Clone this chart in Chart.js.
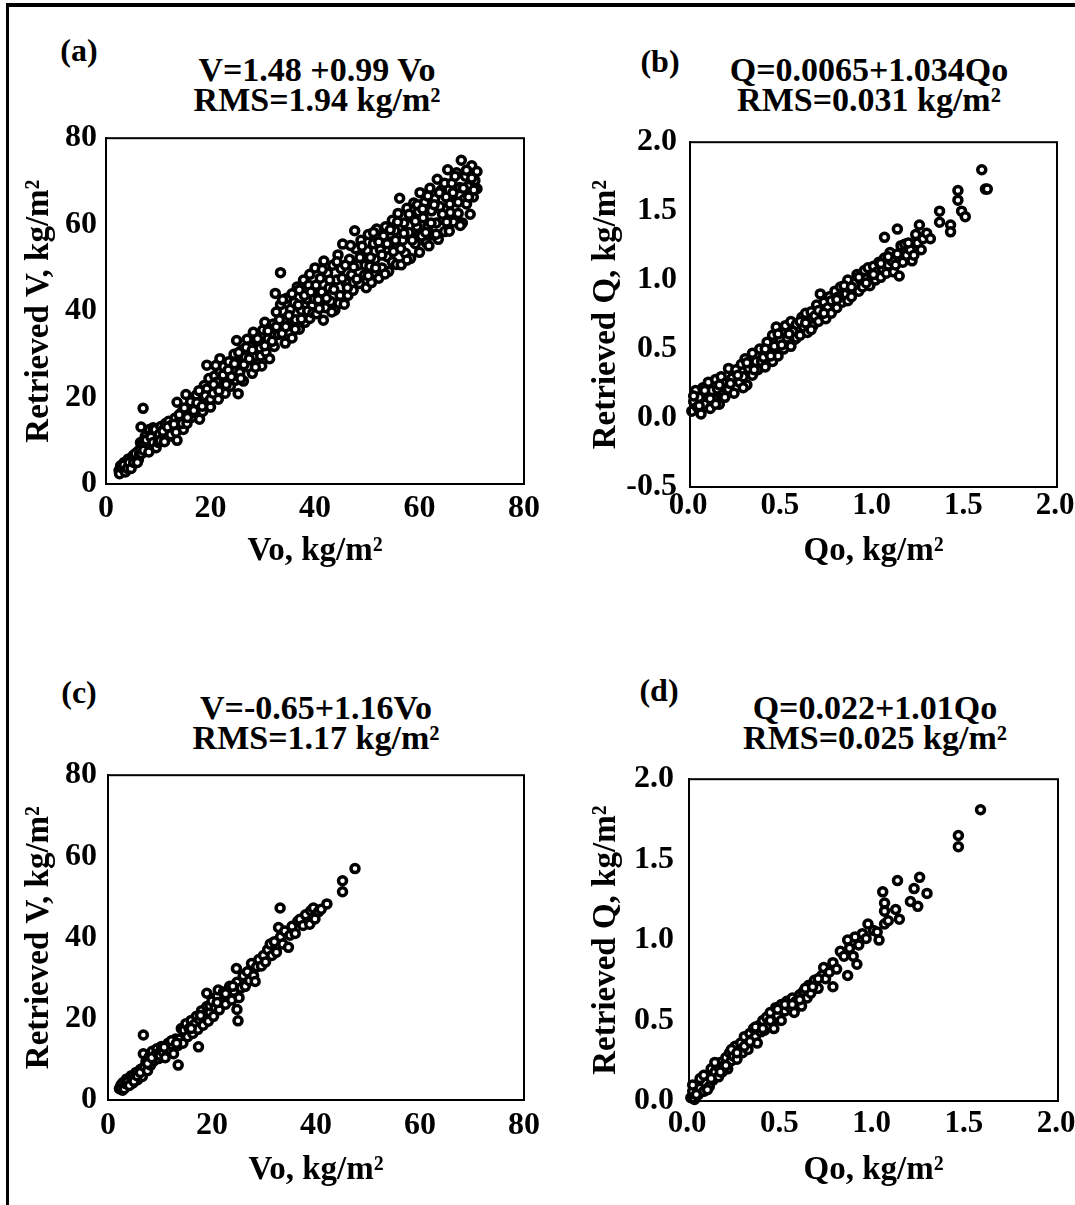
<!DOCTYPE html>
<html>
<head>
<meta charset="utf-8">
<script src="https://cdn.jsdelivr.net/npm/chart.js@4.4.0/dist/chart.umd.min.js"></script>
<style>
  body { margin: 0; background: #fff; width: 1075px; height: 1205px; position: relative; overflow: hidden;
         font-family: "Liberation Serif", "Times New Roman", serif; font-weight: bold; color: #000; }
  .frame { position: absolute; left: 6px; top: 3px; width: 1069px; height: 1202px;
           border-top: 4px solid #000; border-left: 3px solid #000; }
  .txt { position: absolute; transform: translate(-50%, -50%); white-space: nowrap; }
  .tag { font-size: 32px; }
  .ttl { font-size: 34px; line-height: 30px; text-align: center; }
  .pane { position: absolute; }
</style>
</head>
<body>
<div class="frame"></div>

<div class="txt tag" style="left:79px;top:50px">(a)</div>
<div class="txt ttl" style="left:317px;top:85px">V=1.48 +0.99 Vo<br>RMS=1.94 kg/m²</div>
<div class="txt tag" style="left:660px;top:61px">(b)</div>
<div class="txt ttl" style="left:869px;top:85px">Q=0.0065+1.034Qo<br>RMS=0.031 kg/m²</div>
<div class="txt tag" style="left:79px;top:692px">(c)</div>
<div class="txt ttl" style="left:316px;top:723px">V=-0.65+1.16Vo<br>RMS=1.17 kg/m²</div>
<div class="txt tag" style="left:659px;top:690px">(d)</div>
<div class="txt ttl" style="left:875px;top:723px">Q=0.022+1.01Qo<br>RMS=0.025 kg/m²</div>

<div class="pane" style="left:12px;top:110px"><canvas id="pa" width="536" height="475"></canvas></div>
<div class="pane" style="left:548px;top:110px"><canvas id="pb" width="527" height="475"></canvas></div>
<div class="pane" style="left:12px;top:745px"><canvas id="pc" width="536" height="460"></canvas></div>
<div class="pane" style="left:548px;top:745px"><canvas id="pd" width="527" height="460"></canvas></div>

<script>
// tick values
var vTicks = [0, 20, 40, 60, 80];
var qTicksX = [0, 0.5, 1.0, 1.5, 2.0];
var qTicksYb = [-0.5, 0, 0.5, 1.0, 1.5, 2.0];
var qTicksYd = [0, 0.5, 1.0, 1.5, 2.0];

// (a) Vo vs retrieved V
var ptsA = [
  [2.5,3.1],[2.8,4.2],[3.2,3.5],[3.5,5.0],[3.8,3.0],[4.0,4.6],[4.3,5.8],[4.6,4.2],[5.0,5.5],[5.2,6.6],[5.5,4.8],[5.8,6.2],[6.0,7.4],[6.2,5.6],
  [2.6,2.4],[3.0,3.8],[3.4,4.4],[3.7,2.8],[4.1,3.6],[4.4,5.0],[4.8,3.6],[5.3,5.0],[5.6,7.0],[6.0,5.0],[6.4,6.8],[6.6,9.6],
  [6.7,13.2],[7.1,17.5],[6.5,8.0],[6.8,7.0],[7.0,9.2],[7.4,9.2],[7.5,11.0],[7.8,8.2],[8.0,10.3],[8.3,12.6],[8.5,9.0],[8.8,11.4],[9.0,13.0],[9.2,8.6],[9.5,10.6],[9.8,12.2],
  [7.2,7.8],[7.7,10.2],[8.2,7.4],[8.6,10.8],[9.0,9.6],[9.4,12.6],[9.6,8.4],
  [10.0,9.6],[10.2,11.5],[10.5,13.3],[10.8,10.5],[11.0,12.6],[11.4,14.0],[11.7,11.2],[12.0,14.5],[12.2,12.4],[12.5,13.6],[12.8,11.0],[13.2,15.2],[13.6,10.1],[13.6,18.9],[13.8,13.0],[14.2,14.7],[14.5,16.6],[14.8,12.6],[15.1,15.9],
  [10.4,10.0],[10.9,12.2],[11.2,9.8],[11.8,13.2],[12.4,11.4],[13.0,13.8],[13.4,12.0],[14.0,16.0],[14.6,14.0],
  [15.3,20.7],[15.5,14.0],[15.8,17.4],[16.1,17.8],[16.4,15.4],[16.7,19.2],[17.0,16.5],[17.3,20.6],[17.6,18.0],[17.9,15.0],[18.0,19.0],[18.2,21.5],[18.5,16.8],[18.8,22.8],[19.0,18.6],[19.3,22.0],[19.3,27.5],[19.6,20.3],[20.0,17.8],[20.2,23.6],
  [15.0,17.6],[15.6,15.4],[16.2,19.0],[16.8,17.0],[17.4,18.8],[17.8,21.6],[18.4,18.0],[19.0,20.4],[19.7,24.4],[20.0,19.6],
  [20.5,21.0],[20.8,25.0],[21.2,23.6],[21.5,19.6],[21.8,25.9],[21.8,29.0],[22.2,22.4],[22.5,27.2],[22.8,21.0],[23.2,24.6],[23.5,28.3],[23.8,22.6],[24.2,26.4],[24.5,30.0],[24.8,24.0],[25.0,33.2],[25.3,20.9],[25.2,28.0],
  [20.6,23.0],[21.0,27.4],[21.6,21.6],[22.4,25.2],[23.0,23.0],[23.4,26.4],[24.0,24.8],[24.6,27.8],
  [25.6,25.8],[26.0,31.0],[26.3,23.8],[26.6,29.4],[27.0,33.5],[27.3,27.0],[27.6,31.8],[28.0,25.6],[28.2,35.1],[28.5,29.6],[28.8,33.4],[29.2,27.8],[29.5,31.4],[29.8,27.3],[30.0,35.6],[30.4,37.4],
  [25.4,30.4],[25.8,24.4],[26.4,27.6],[26.8,31.6],[27.4,29.0],[28.0,31.0],[28.6,27.0],[29.0,33.6],[29.6,29.6],
  [30.6,30.5],[31.0,33.6],[31.3,29.0],[31.6,36.4],[32.0,37.0],[32.2,31.8],[32.4,44.1],[32.6,39.8],[33.0,34.6],[33.4,48.9],[33.4,41.5],[33.7,34.8],[34.0,38.2],[34.3,32.6],[34.6,43.0],[35.0,36.6],[35.3,40.4],
  [30.4,32.0],[31.0,35.4],[31.8,33.0],[32.6,36.4],[33.2,38.0],[33.8,42.6],[34.4,36.4],
  [35.6,33.8],[36.0,42.0],[36.3,38.0],[36.6,45.6],[37.0,35.8],[37.0,44.9],[37.4,40.2],[37.8,47.2],[38.1,37.4],[38.4,42.8],[38.8,46.0],[39.0,38.3],[39.0,48.5],[39.4,41.2],[39.8,44.6],[40.0,50.0],
  [35.0,39.0],[35.6,44.0],[36.2,35.8],[36.8,41.4],[37.4,38.2],[38.0,43.6],[38.6,40.0],[39.2,44.4],[39.6,39.6],
  [40.3,39.4],[40.6,42.6],[41.0,47.6],[41.3,44.4],[41.6,37.9],[41.7,51.6],[42.0,40.8],[42.4,48.8],[42.7,45.4],[43.0,42.2],[43.4,50.6],[43.8,40.2],[44.1,47.2],[44.4,53.0],[44.8,43.6],[45.0,49.8],[45.3,55.5],
  [40.2,46.0],[40.8,40.6],[41.4,49.6],[42.2,43.0],[42.8,47.2],[43.2,39.8],[43.6,45.0],[44.2,51.4],[44.6,41.8],
  [45.6,41.6],[45.9,46.6],[46.3,43.6],[46.6,52.0],[47.0,48.4],[47.3,44.8],[47.6,58.6],[47.8,54.4],[48.2,50.6],[48.5,46.4],[48.8,56.4],[49.2,52.8],[49.5,48.4],[49.8,45.4],[50.2,57.7],[50.0,54.0],
  [45.2,47.6],[45.8,50.6],[46.2,45.4],[46.8,55.2],[47.4,50.2],[48.0,47.4],[48.6,52.4],[49.0,55.0],[49.6,50.6],
  [50.5,50.4],[50.8,46.6],[51.2,55.6],[51.5,52.0],[51.8,59.0],[52.2,47.6],[52.5,54.2],[52.8,50.0],[53.1,57.4],[53.5,59.5],[53.8,52.6],[54.1,49.2],[54.4,56.0],[54.8,61.0],[55.0,53.8],[55.3,58.6],
  [50.2,48.2],[50.6,52.4],[51.2,58.2],[51.6,50.0],[52.2,56.0],[52.8,53.0],[53.4,48.6],[53.8,55.6],[54.4,58.8],[54.8,51.4],
  [55.6,50.8],[55.9,62.6],[56.2,66.1],[56.5,50.7],[56.8,56.4],[57.0,60.4],[57.3,53.4],[57.6,63.8],[58.0,58.2],[58.3,52.2],[58.6,61.6],[58.9,65.0],[59.2,55.6],[59.5,59.6],[59.8,63.0],[60.1,67.4],[60.0,53.6],
  [55.4,56.4],[55.8,60.6],[56.4,54.4],[57.0,58.0],[57.6,51.8],[58.0,62.4],[58.6,56.4],[59.2,60.8],[59.6,64.6],[60.0,57.8],
  [60.4,57.4],[60.7,61.6],[61.0,65.2],[61.3,55.8],[61.6,59.6],[61.8,55.1],[62.0,68.4],[62.3,63.2],[62.6,57.6],[62.9,66.0],[63.2,60.4],[63.4,70.5],[63.6,56.6],[63.9,64.2],[64.2,68.0],[64.5,61.2],[64.8,58.4],
  [60.6,63.6],[61.2,58.2],[61.6,66.6],[62.2,60.4],[62.8,64.6],[63.2,57.8],[63.8,67.4],[64.4,62.4],[64.8,69.6],
  [65.1,66.4],[65.4,72.7],[65.7,58.5],[65.9,62.8],[66.2,69.6],[66.5,60.6],[66.8,65.4],[67.1,72.0],[67.4,62.6],[67.7,68.6],[68.0,74.9],[68.2,60.4],[68.5,65.8],[68.8,71.2],[69.0,64.8],[69.3,68.8],[69.7,62.4],[70.0,73.6],[70.3,66.4],[70.6,70.2],[71.0,72.3],[71.0,68.3],
  [65.2,60.6],[65.8,64.8],[66.4,67.4],[66.8,71.2],[67.4,65.2],[67.8,59.8],[68.4,68.4],[69.0,72.6],[69.4,66.4],[70.0,70.8],[70.4,68.0]
];

// (b) Qo vs retrieved Q
var ptsB = [
  [0.01,0.05],[0.02,0.12],[0.03,0.20],[0.04,0.08],[0.05,0.15],[0.06,0.03],[0.07,0.22],[0.08,0.10],[0.09,0.18],[0.10,0.26],[0.11,0.07],[0.12,0.20],[0.13,0.14],[0.14,0.28],[0.15,0.21],[0.16,0.10],[0.17,0.30],[0.18,0.17],[0.19,0.25],
  [0.02,0.16],[0.05,0.09],[0.08,0.20],[0.11,0.14],[0.14,0.10],[0.16,0.24],[0.19,0.15],
  [0.21,0.36],[0.21,0.21],[0.23,0.29],[0.24,0.18],[0.25,0.35],[0.27,0.26],[0.28,0.39],[0.29,0.30],[0.30,0.43],[0.31,0.24],[0.32,0.36],[0.34,0.47],[0.34,0.31],[0.36,0.41],[0.37,0.35],[0.38,0.50],
  [0.22,0.25],[0.26,0.31],[0.29,0.22],[0.31,0.40],[0.35,0.35],[0.39,0.41],
  [0.40,0.44],[0.41,0.37],[0.42,0.55],[0.43,0.47],[0.45,0.41],[0.45,0.60],[0.46,0.52],[0.47,0.66],[0.48,0.45],[0.49,0.57],[0.50,0.62],[0.51,0.50],[0.52,0.67],[0.53,0.58],[0.55,0.52],[0.55,0.70],[0.56,0.63],[0.57,0.57],[0.58,0.68],
  [0.41,0.50],[0.44,0.45],[0.48,0.61],[0.50,0.53],[0.54,0.61],[0.58,0.58],
  [0.60,0.60],[0.61,0.73],[0.62,0.66],[0.63,0.76],[0.64,0.62],[0.65,0.70],[0.66,0.77],[0.67,0.67],[0.68,0.74],[0.69,0.82],[0.70,0.70],[0.71,0.90],[0.72,0.78],[0.73,0.84],[0.74,0.72],[0.75,0.80],[0.76,0.88],[0.77,0.76],[0.78,0.84],[0.79,0.92],
  [0.60,0.70],[0.63,0.69],[0.66,0.64],[0.70,0.78],[0.73,0.76],[0.77,0.85],
  [0.80,0.80],[0.81,0.88],[0.82,0.95],[0.83,0.84],[0.85,0.90],[0.86,1.00],[0.86,0.85],[0.87,0.94],[0.88,0.88],[0.90,0.98],[0.91,1.04],[0.92,0.92],[0.93,1.00],[0.94,0.95],[0.95,1.07],[0.96,1.01],[0.97,1.09],[0.98,0.96],[0.99,1.04],
  [0.80,0.86],[0.84,0.96],[0.88,0.95],[0.92,1.02],[0.96,0.98],
  [1.00,1.10],[1.01,1.00],[1.02,1.06],[1.03,1.13],[1.04,1.02],[1.05,1.08],[1.06,1.31],[1.06,1.16],[1.07,1.05],[1.08,1.11],[1.09,1.20],[1.10,1.14],[1.11,1.06],[1.13,1.37],[1.13,1.19],[1.14,1.03],[1.15,1.25],[1.16,1.13],[1.17,1.26],[1.18,1.18],
  [1.00,1.04],[1.04,1.12],[1.08,1.17],[1.12,1.11],
  [1.20,1.22],[1.21,1.14],[1.23,1.33],[1.24,1.27],[1.25,1.40],[1.26,1.22],[1.27,1.30],[1.29,1.34],[1.31,1.30],[1.19,1.27],[1.22,1.18],
  [1.36,1.50],[1.36,1.42],[1.42,1.40],[1.42,1.35],[1.46,1.65],[1.46,1.58],[1.48,1.50],[1.50,1.46],[1.59,1.80],[1.61,1.66],[1.62,1.66]
];

// (c) Vo vs retrieved V
var ptsC = [
  [2.2,2.8],[2.5,3.6],[2.8,2.4],[3.0,4.4],[3.3,3.2],[3.6,5.2],[3.9,3.8],[4.2,4.8],[4.5,6.0],[4.8,4.2],[5.1,5.6],[5.4,6.8],[5.7,5.0],[6.0,6.4],[6.3,7.6],[6.6,5.8],
  [2.4,3.2],[2.7,4.0],[3.1,2.8],[3.4,4.0],[3.8,4.6],[4.1,3.6],[4.6,5.2],[5.0,4.6],[5.6,6.0],[6.2,6.8],
  [6.8,11.4],[6.8,16.0],[7.0,8.2],[7.3,9.4],[7.6,7.2],[7.9,10.6],[8.2,8.6],[8.5,12.0],[8.8,9.6],[9.1,11.0],[9.4,12.6],[9.7,10.2],
  [7.6,9.0],[8.4,10.4],[9.6,11.4],
  [10.0,11.0],[10.3,13.2],[10.6,11.8],[11.0,10.4],[11.3,12.6],[11.6,14.0],[12.0,12.0],[12.3,13.6],[12.6,11.4],[13.0,15.0],[13.5,8.6],[13.4,13.4],[13.8,15.0],[14.1,17.6],[14.4,14.0],[14.7,16.4],
  [10.8,13.0],[12.2,14.6],[13.2,14.0],[14.6,17.2],
  [15.0,18.8],[15.3,15.6],[15.6,17.6],[16.0,19.6],[16.3,16.4],[16.6,18.6],[17.0,20.6],[17.4,13.1],[17.3,17.4],[17.6,19.8],[18.0,22.0],[18.3,18.4],[18.6,20.6],[19.0,26.3],[19.0,23.0],[19.3,19.4],[19.6,21.6],
  [16.0,17.6],[17.8,20.8],[19.6,23.2],
  [20.0,24.4],[20.3,20.6],[20.6,22.8],[21.0,25.6],[21.2,27.1],[21.4,22.2],[21.8,24.2],[22.2,26.6],[22.6,23.6],[23.0,25.6],[23.4,28.0],[23.8,24.6],[24.2,26.8],[24.7,32.4],[24.8,22.3],[25.0,19.5],[24.8,29.0],
  [21.0,24.0],[22.6,26.2],[24.0,28.0],
  [25.2,25.2],[25.6,27.6],[26.0,30.6],[26.4,28.0],[26.8,31.6],[27.2,29.4],[27.6,33.6],[28.0,30.6],[28.3,29.2],[28.6,32.8],[29.0,34.6],[29.5,33.0],[29.9,35.6],
  [30.3,34.0],[30.7,37.0],[31.2,38.4],[31.5,35.6],[32.0,39.0],[32.4,36.4],[32.8,42.5],[33.1,47.3],[33.2,40.2],[33.6,38.4],[34.0,41.6],[34.7,37.6],
  [35.0,40.6],[35.4,42.8],[36.0,41.0],[36.5,44.0],[36.9,44.5],[37.5,43.0],[38.0,45.6],[38.8,43.3],[39.0,46.6],[39.5,47.3],[39.8,44.6],
  [40.5,46.4],[41.0,47.0],[42.1,48.3],[45.1,54.0],[45.1,51.3],[47.5,57.0]
];

// (d) Qo vs retrieved Q
var ptsD = [
  [0.01,0.02],[0.02,0.06],[0.03,0.01],[0.04,0.10],[0.05,0.04],[0.06,0.08],[0.07,0.13],[0.08,0.06],[0.09,0.11],[0.10,0.16],[0.11,0.09],[0.12,0.20],[0.13,0.13],[0.14,0.18],[0.15,0.22],[0.16,0.15],[0.17,0.24],[0.18,0.18],[0.19,0.22],
  [0.02,0.10],[0.04,0.04],[0.06,0.14],[0.08,0.16],[0.10,0.07],[0.12,0.14],[0.14,0.24],[0.17,0.18],
  [0.20,0.27],[0.21,0.20],[0.22,0.30],[0.23,0.25],[0.24,0.28],[0.25,0.34],[0.26,0.26],[0.27,0.31],[0.28,0.36],[0.29,0.30],[0.30,0.40],[0.31,0.34],[0.32,0.32],[0.33,0.42],[0.34,0.38],[0.35,0.45],[0.36,0.40],[0.37,0.36],[0.38,0.47],[0.39,0.43],
  [0.20,0.22],[0.23,0.32],[0.26,0.30],[0.30,0.34],[0.33,0.37],[0.36,0.46],
  [0.40,0.50],[0.41,0.44],[0.42,0.52],[0.43,0.47],[0.44,0.55],[0.45,0.50],[0.46,0.45],[0.47,0.58],[0.48,0.53],[0.50,0.60],[0.50,0.50],[0.52,0.56],[0.53,0.62],[0.55,0.58],[0.56,0.64],[0.57,0.55],[0.58,0.62],
  [0.40,0.45],[0.44,0.50],[0.48,0.57],[0.52,0.60],[0.56,0.60],
  [0.60,0.66],[0.61,0.59],[0.62,0.68],[0.64,0.64],[0.65,0.72],[0.66,0.67],[0.68,0.75],[0.70,0.70],[0.72,0.78],[0.73,0.83],[0.74,0.76],[0.76,0.80],[0.78,0.86],[0.78,0.71],
  [0.60,0.63],[0.63,0.70],[0.67,0.71],[0.70,0.76],
  [0.80,0.82],[0.82,0.93],[0.84,0.90],[0.86,0.78],[0.86,1.00],[0.87,0.95],[0.89,0.90],[0.90,1.02],[0.91,0.85],[0.92,0.97],[0.94,1.04],[0.96,1.01],[0.97,1.10],
  [1.00,1.06],[1.02,1.05],[1.03,1.00],[1.05,1.30],[1.06,1.23],[1.06,1.18],[1.06,1.10],[1.08,1.12],[1.12,1.19],[1.13,1.37],[1.14,1.13],
  [1.20,1.24],[1.22,1.32],[1.24,1.21],[1.25,1.39],[1.29,1.29],[1.46,1.65],[1.46,1.58],[1.58,1.81]
];

var serif = '"Liberation Serif", "Times New Roman", serif';

// stroke the top and right sides of the plot box too
var boxLines = {
  id: 'boxLines',
  afterDraw: function(chart) {
    var a = chart.chartArea, ctx = chart.ctx;
    ctx.save();
    ctx.strokeStyle = '#000';
    ctx.lineWidth = 2;
    ctx.strokeRect(a.left, a.top, a.right - a.left, a.bottom - a.top);
    ctx.restore();
  }
};

function makePanel(id, pts, o) {
  var ctx = document.getElementById(id).getContext('2d');
  return new Chart(ctx, {
    type: 'scatter',
    data: {
      datasets: [{
        data: pts.map(function(p) { return {x: p[0], y: p[1]}; }),
        pointRadius: 4,
        pointHoverRadius: 4,
        pointBorderWidth: 3.5,
        pointBackgroundColor: '#fff',
        pointBorderColor: '#000',
        clip: false
      }]
    },
    options: {
      responsive: false,
      animation: false,
      events: [],
      layout: {padding: {left: 0, top: o.padTop, right: o.padRight, bottom: 0}},
      plugins: {legend: {display: false}, tooltip: {enabled: false}},
      scales: {
        x: {
          type: 'linear', min: o.xTicks[0], max: o.xTicks[o.xTicks.length - 1],
          grid: {display: false, drawTicks: false},
          border: {display: true, color: '#000', width: 2},
          ticks: {color: '#000', padding: o.xTickPad, maxRotation: 0, labelOffset: o.xShift || 0,
                  font: {family: serif, size: o.xTickSize || 32, weight: 'bold'},
                  callback: o.fmt},
          title: {display: true, text: o.xTitle, color: '#000',
                  font: {family: serif, size: 33, weight: 'bold'},
                  padding: {top: 0, bottom: o.xTitlePad}},
          afterBuildTicks: function(s) { s.ticks = o.xTicks.map(function(v) { return {value: v}; }); },
          afterFit: function(s) { s.height = o.xHeight; s.paddingRight = 0; }
        },
        y: {
          type: 'linear', min: o.yTicks[0], max: o.yTicks[o.yTicks.length - 1],
          grid: {display: false, drawTicks: false},
          border: {display: true, color: '#000', width: 2},
          ticks: {color: '#000', padding: o.yTickPad,
                  font: {family: serif, size: 32, weight: 'bold'},
                  callback: o.fmt},
          title: {display: true, text: o.yTitle, color: '#000',
                  font: {family: serif, size: 33, weight: 'bold'},
                  padding: {top: o.yTitlePad, bottom: 0}},
          afterBuildTicks: function(s) { s.ticks = o.yTicks.map(function(v) { return {value: v}; }); },
          afterFit: function(s) { s.width = o.yWidth; }
        }
      }
    },
    plugins: [boxLines]
  });
}

var fmtV = function(v) { return String(v); };
var fmtQ = function(v) { return Number(v).toFixed(1); };

makePanel('pa', ptsA, {xTicks: vTicks, yTicks: vTicks, fmt: fmtV,
  xTitle: 'Vo, kg/m²', yTitle: 'Retrieved V, kg/m²',
  padTop: 27, padRight: 24, yWidth: 94, xHeight: 101,
  yTickPad: 9, yTitlePad: 8, xTickPad: 6, xTitlePad: 14});

makePanel('pb', ptsB, {xTicks: qTicksX, yTicks: qTicksYb, fmt: fmtQ,
  xTitle: 'Qo, kg/m²', yTitle: 'Retrieved Q, kg/m²',
  padTop: 26, padRight: 18, yWidth: 142, xHeight: 98, xTickSize: 31, xShift: -2,
  yTickPad: 13, yTitlePad: 39, xTickPad: 0, xTitlePad: 14});

makePanel('pc', ptsC, {xTicks: vTicks, yTicks: vTicks, fmt: fmtV,
  xTitle: 'Vo, kg/m²', yTitle: 'Retrieved V, kg/m²',
  padTop: 26, padRight: 24, yWidth: 96, xHeight: 105,
  yTickPad: 11, yTitlePad: 8, xTickPad: 7, xTitlePad: 15});

makePanel('pd', ptsD, {xTicks: qTicksX, yTicks: qTicksYd, fmt: fmtQ,
  xTitle: 'Qo, kg/m²', yTitle: 'Retrieved Q, kg/m²',
  padTop: 27, padRight: 17, yWidth: 141, xHeight: 104, xTickSize: 31, xShift: -2,
  yTickPad: 15, yTitlePad: 39, xTickPad: 4, xTitlePad: 15});
</script>
</body>
</html>
